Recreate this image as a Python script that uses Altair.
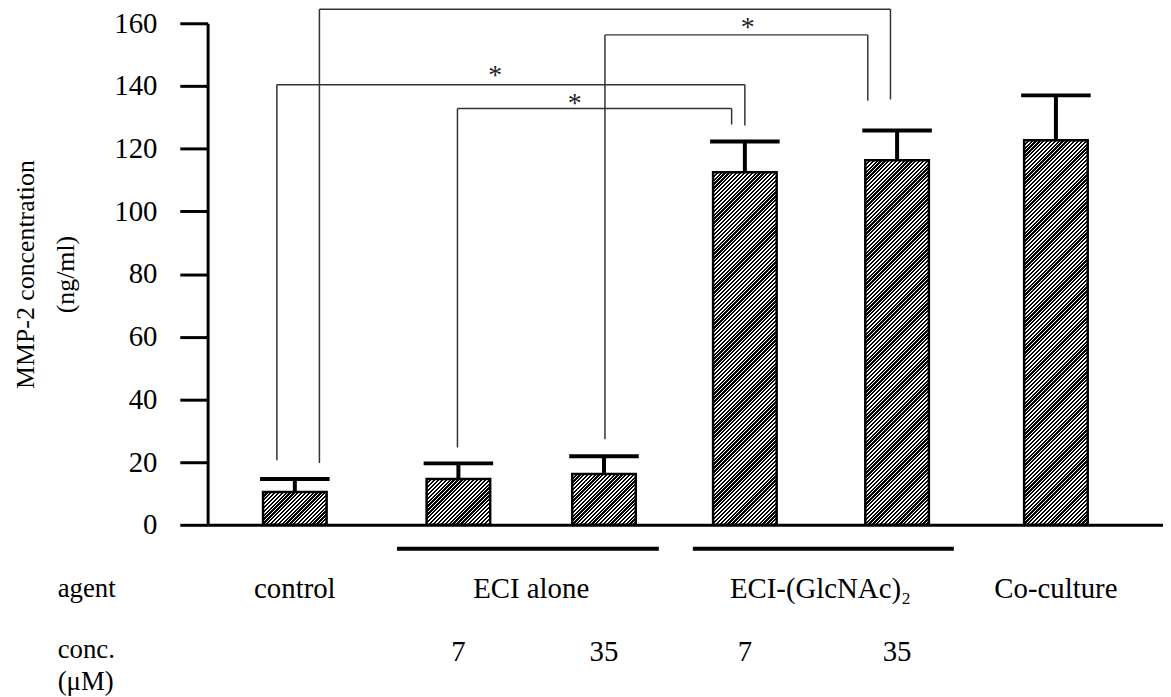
import altair as alt
import pandas as pd

# ---------------- data ----------------
categories = ["control", "ECI alone 7", "ECI alone 35",
              "ECI-(GlcNAc)2 7", "ECI-(GlcNAc)2 35", "Co-culture"]
means = [10.5, 14.6, 16.2, 112.5, 116.3, 122.7]
err_tops = [14.6, 19.6, 21.9, 122.3, 125.8, 137.0]
xpos = [0.87, 2.60, 4.14, 5.63, 7.24, 8.92]          # slot positions on a 0..10 axis

y_ticks = [0, 20, 40, 60, 80, 100, 120, 140, 160]

agent_labels = ["control", "ECI alone", "ECI-(GlcNAc)₂", "Co-culture"]
agent_xpos = [0.87, 3.37, 6.43, 8.92]
conc_labels = ["7", "35", "7", "35"]
conc_xpos = [2.60, 4.14, 5.63, 7.24]
row_labels = ["agent", "conc.", "(μM)"]

group_start = [1.95, 5.08]
group_end = [4.72, 7.84]

# significance brackets (left leg x, right leg x, top level, leg ends)
br_left_x = [1.13, 4.15, 0.68, 2.59]
br_right_x = [7.17, 6.93, 5.63, 5.49]
br_top = [164.5, 156.3, 140.4, 132.8]
br_left_bottom = [19.7, 27.3, 20.6, 24.7]
br_right_bottom = [135.7, 135.3, 127.4, 127.7]
star_x = [5.66, 2.99, 3.83]
star_y = [160.1, 144.8, 135.7]

# ---------------- layout ----------------
W, H = 962, 505
BAR_W = 64
FONT = "Liberation Serif"
FS = 29
PX_PER_UNIT = H / 160.0

xs = alt.Scale(domain=[0, 10], nice=False, zero=False)
ys = alt.Scale(domain=[0, 160], nice=False)

df = pd.DataFrame({"cat": categories, "x": xpos, "mean": means,
                   "err": err_tops, "idx": list(range(len(means)))})


def hatch(value):
    w = BAR_W
    h = max(value * PX_PER_UNIT, 1.0)
    k = (w + h) / (w * w + h * h)
    n = max(1, int(round((w + h) / 3.9)))
    stops = []
    for i in range(n):
        a, b, c = i / n, (i + 0.58) / n, (i + 1) / n
        stops += [{"offset": round(a, 5), "color": "#000000"},
                  {"offset": round(b, 5), "color": "#000000"},
                  {"offset": round(b, 5), "color": "#ffffff"},
                  {"offset": round(c, 5), "color": "#ffffff"}]
    return {"gradient": "linear", "x1": 0, "y1": 0,
            "x2": round(k * w, 5), "y2": round(k * h, 5), "stops": stops}


yaxis = alt.Axis(values=y_ticks, tickSize=28, tickWidth=3, domainWidth=3,
                 domainColor="black", tickColor="black", labelColor="black",
                 labelFont=FONT, labelFontSize=29, labelPadding=23, grid=False,
                 title=["MMP-2 concentration", "(ng/ml)"], titleFont=FONT,
                 titleFontSize=26, titleFontWeight="normal", titleColor="black",
                 titleLineHeight=40, titlePadding=36)
xaxis = alt.Axis(labels=False, ticks=False, domain=True, domainWidth=3,
                 domainColor="black", grid=False, title=None)


def X(field):
    return alt.X(field, scale=xs, axis=xaxis)


def Y(field):
    return alt.Y(field, scale=ys, axis=yaxis)


base = alt.Chart(df)

bar_layers = []
for i, m in enumerate(means):
    bar_layers.append(
        base.transform_filter(alt.datum.idx == i)
        .mark_bar(width=BAR_W, fill=hatch(m), stroke="black", strokeWidth=2.5)
        .encode(x=X("x:Q"), y=Y("mean:Q"))
    )

stems = base.mark_rule(color="black", strokeWidth=4).encode(
    x=X("x:Q"), y=Y("mean:Q"), y2="err:Q",
)
caps = base.mark_rule(color="black", strokeWidth=4, xOffset=-35, x2Offset=35).encode(
    x=X("x:Q"), x2="x:Q", y=Y("err:Q"),
)

# bracket segments
seg_rows = []
for lx, rx, top, lb, rb in zip(br_left_x, br_right_x, br_top, br_left_bottom, br_right_bottom):
    seg_rows.append({"x1": lx, "x2": lx, "y1": lb, "y2": top})
    seg_rows.append({"x1": lx, "x2": rx, "y1": top, "y2": top})
    seg_rows.append({"x1": rx, "x2": rx, "y1": top, "y2": rb})
segs = alt.Chart(pd.DataFrame(seg_rows)).mark_rule(color="#333333", strokeWidth=1.5).encode(
    x=X("x1:Q"), x2="x2:Q", y=Y("y1:Q"), y2="y2:Q",
)

stars = alt.Chart(pd.DataFrame({"x": star_x, "y": star_y, "t": ["*"] * len(star_x)})).mark_text(
    font=FONT, fontSize=28, color="#222222", baseline="middle", dy=5
).encode(x=X("x:Q"), y=Y("y:Q"), text="t:N")

group_lines = alt.Chart(pd.DataFrame({"s": group_start, "e": group_end})).mark_rule(
    color="black", strokeWidth=4
).encode(x=X("s:Q"), x2="e:Q", y=alt.value(529))

agent_text = alt.Chart(pd.DataFrame({"x": agent_xpos, "t": agent_labels})).mark_text(
    font=FONT, fontSize=FS, color="black", baseline="middle", align="center"
).encode(x=X("x:Q"), y=alt.value(570), text="t:N")

conc_text = alt.Chart(pd.DataFrame({"x": conc_xpos, "t": conc_labels})).mark_text(
    font=FONT, fontSize=FS, color="black", baseline="middle", align="center"
).encode(x=X("x:Q"), y=alt.value(633), text="t:N")

row_layers = []
for lab, yy in zip(row_labels, [570, 631, 663]):
    row_layers.append(
        alt.Chart(pd.DataFrame({"t": [lab]})).mark_text(
            font=FONT, fontSize=27, color="black", baseline="middle", align="left"
        ).encode(x=alt.value(-151), y=alt.value(yy), text="t:N")
    )

chart = alt.layer(
    *bar_layers, segs, stems, caps, stars, group_lines,
    agent_text, conc_text, *row_layers
).properties(
    width=W, height=H,
    padding={"left": 201, "top": 13, "right": 0, "bottom": 171},
    autosize=alt.AutoSizeParams(type="none"),
    background="white",
).configure_view(stroke=None)

chart.save("out.html", embed_options={"renderer": "svg", "actions": False})
